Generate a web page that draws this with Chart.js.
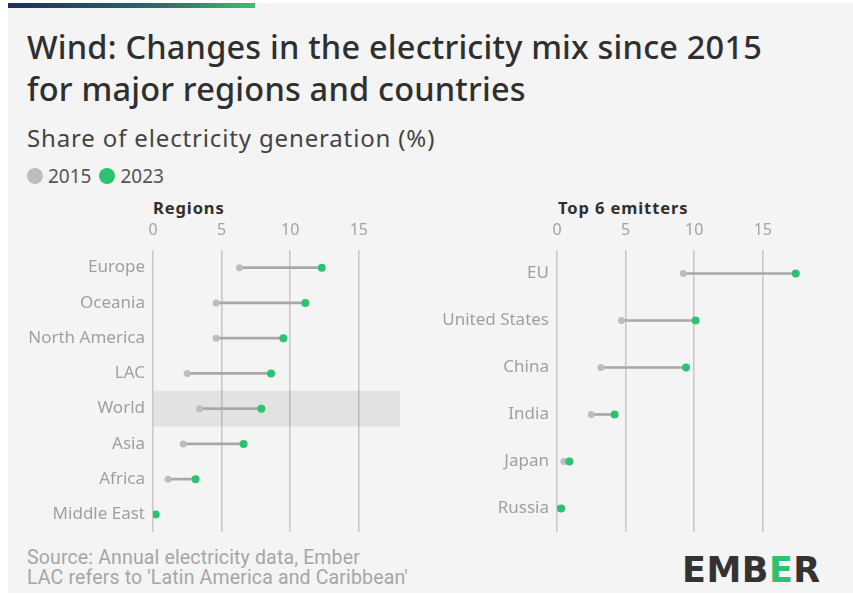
<!DOCTYPE html>
<html>
<head>
<meta charset="utf-8">
<script src="https://cdn.jsdelivr.net/npm/chart.js@4"></script>
<style>
  html, body { margin: 0; padding: 0; background: #fff; }
  body { width: 853px; height: 596px; position: relative; overflow: hidden; font-family: "Noto Sans", sans-serif; }
  .card { position: absolute; left: 8px; top: 3px; width: 845px; height: 590px; background: #f4f4f4; }
  .topbar { position: absolute; left: 8px; top: 3px; width: 247px; height: 5px; background: linear-gradient(90deg, #1f2d5a, #2c6a6a 60%, #3dbf6e); }
  .title { position: absolute; left: 27px; top: 26px; font-size: 32.5px; line-height: 42px; font-weight: 500; color: #2f2f2f; letter-spacing: 0.2px; white-space: nowrap; }
  .subtitle { position: absolute; left: 27px; top: 121px; font-size: 24px; color: #444; letter-spacing: 0.85px; white-space: nowrap; }
  .legend { position: absolute; left: 27px; top: 166px; height: 20px; font-size: 19px; color: #555; display: flex; align-items: center; }
  .legend .dot { width: 16px; height: 16px; border-radius: 50%; display: inline-block; margin-right: 5px; }
  .legend .item { display: flex; align-items: center; margin-right: 8px; }
  .panel-title { position: absolute; top: 196px; font-size: 16.5px; font-weight: 700; color: #2f2f2f; letter-spacing: 0.9px; white-space: nowrap; }
  .source { position: absolute; left: 27px; top: 548px; font-size: 19.5px; line-height: 19.5px; color: #a6a6a6; font-family: "Liberation Sans Narrow", "Roboto", sans-serif; letter-spacing: 0.15px; white-space: nowrap; }
  .logo { position: absolute; left: 682px; top: 550px; font-size: 35px; font-weight: 800; color: #333; letter-spacing: 0.5px; font-family: "DejaVu Sans", sans-serif; }
  .logo .g { color: #2dc26f; }
  canvas { position: absolute; }
  #left { left: 0; top: 190px; }
  #right { left: 420px; top: 190px; }
</style>
</head>
<body>
<div class="card"></div>
<div class="topbar"></div>
<div class="title">Wind: Changes in the electricity mix since 2015<br>for major regions and countries</div>
<div class="subtitle">Share of electricity generation (%)</div>
<div class="legend">
  <span class="item"><span class="dot" style="background:#bdbdbd"></span>2015</span>
  <span class="item"><span class="dot" style="background:#2dc26f"></span>2023</span>
</div>
<div class="panel-title" style="left:153px">Regions</div>
<div class="panel-title" style="left:558px">Top 6 emitters</div>
<canvas id="left" width="420" height="350"></canvas>
<canvas id="right" width="420" height="350"></canvas>
<div class="source">Source: Annual electricity data, Ember<br>LAC refers to 'Latin America and Caribbean'</div>
<div class="logo">EMB<span class="g">E</span>R</div>
<script>
const regions = ['Europe', 'Oceania', 'North America', 'LAC', 'World', 'Asia', 'Africa', 'Middle East'];
const regions2015 = [6.3, 4.6, 4.6, 2.5, 3.4, 2.2, 1.1, 0.1];
const regions2023 = [12.3, 11.1, 9.5, 8.6, 7.9, 6.6, 3.1, 0.2];

const emitters = ['EU', 'United States', 'China', 'India', 'Japan', 'Russia'];
const emitters2015 = [9.2, 4.7, 3.2, 2.5, 0.5, 0.0];
const emitters2023 = [17.4, 10.1, 9.4, 4.2, 0.9, 0.3];

const xTicks = [0, 5, 10, 15];
const xMax = 18;
const highlight = 'World';

const GRAY = '#bdbdbd';
const GREEN = '#2dc26f';

function buildChart(canvasId, labels, start, end, yWidth, padRight) {
  const band = labels.map(l => l === highlight ? [0, xMax] : null);
  const links = labels.map((l, i) => [start[i], end[i]]);

  return new Chart(document.getElementById(canvasId), {
    type: 'bar',
    data: {
      labels,
      datasets: [
        {
          data: band,
          backgroundColor: 'rgba(0,0,0,0.07)',
          barPercentage: 1,
          categoryPercentage: 1,
          grouped: false,
          order: 4
        },
        {
          data: links,
          backgroundColor: '#a8a8a8',
          barThickness: 2,
          grouped: false,
          order: 3
        },
        {
          type: 'line',
          data: start,
          showLine: false,
          pointRadius: 3.5,
          pointBackgroundColor: GRAY,
          pointBorderWidth: 0,
          order: 2
        },
        {
          type: 'line',
          data: end,
          showLine: false,
          pointRadius: 4,
          pointBackgroundColor: GREEN,
          pointBorderWidth: 0,
          order: 1
        }
      ]
    },
    options: {
      indexAxis: 'y',
      responsive: false,
      animation: false,
      layout: { padding: { top: 20, right: padRight, bottom: 8, left: 0 } },
      plugins: { legend: { display: false }, tooltip: { enabled: false } },
      scales: {
        x: {
          position: 'top',
          min: 0,
          max: xMax,
          afterBuildTicks: (scale) => { scale.ticks = xTicks.map(v => ({ value: v })); },
          afterFit: (scale) => { scale.height = 40; scale.paddingLeft = 0; scale.paddingRight = 0; },
          border: { display: false },
          grid: { color: '#c9c9c9', lineWidth: 1.6, drawTicks: false },
          ticks: { color: '#a3a3a3', font: { size: 16, family: 'Noto Sans' }, padding: 10 }
        },
        y: {
          afterFit: (scale) => { scale.width = yWidth; scale.paddingTop = 0; scale.paddingBottom = 0; },
          border: { display: false },
          grid: { display: false },
          ticks: { color: '#a0a0a0', font: { size: 17, family: 'Noto Sans' }, padding: 0 }
        }
      }
    }
  });
}

buildChart('left', regions, regions2015, regions2023, 153, 20);
buildChart('right', emitters, emitters2015, emitters2023, 137, 36);
</script>
</body>
</html>
